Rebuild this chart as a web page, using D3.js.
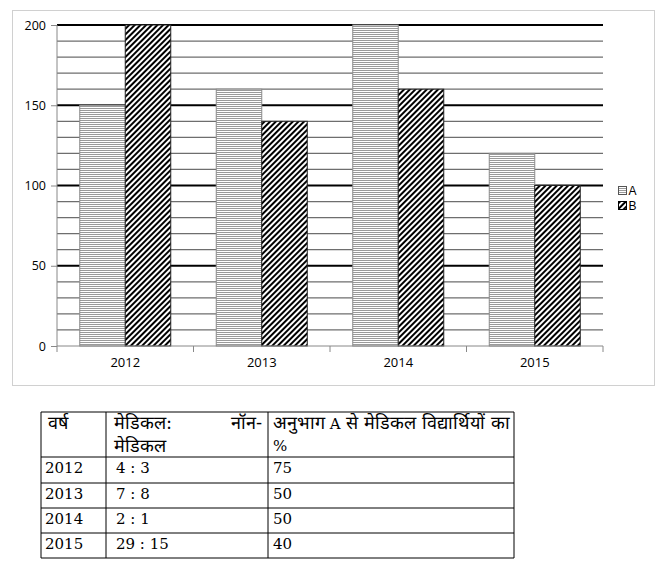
<!DOCTYPE html>
<html><head><meta charset="utf-8">
<script src="https://cdn.jsdelivr.net/npm/d3@7"></script>
<style>body{margin:0;background:#fff}svg{display:block}</style>
</head><body>
<script>
const years = ["2012","2013","2014","2015"];
const seriesA = [150,160,200,120];
const seriesB = [200,140,160,100];
const seriesNames = ["A","B"];
const yTicks = [0,50,100,150,200];
const tableHeader = ["वर्ष", "मेडिकल: नॉन-मेडिकल", "अनुभाग A से मेडिकल विद्यार्थियों का %"];
const tableRatios = ["4 : 3","7 : 8","2 : 1","29 : 15"];
const tablePercents = ["75","50","50","40"];

const W=665,H=566;
const svg=d3.select("body").append("svg").attr("width",W).attr("height",H);
const defs=svg.append("defs");
const pA=defs.append("pattern").attr("id","patA").attr("patternUnits","userSpaceOnUse").attr("width",4).attr("height",2);
pA.append("rect").attr("width",4).attr("height",2).attr("fill","#fff");
pA.append("rect").attr("width",4).attr("height",1).attr("fill","#9a9a9a");
const pB=defs.append("pattern").attr("id","patB").attr("patternUnits","userSpaceOnUse").attr("width",4).attr("height",4).attr("patternTransform","rotate(45)");
pB.append("rect").attr("width",4).attr("height",4).attr("fill","#fff");
pB.append("rect").attr("width",2).attr("height",4).attr("fill","#000");

const sansF="'Open Sans', 'Liberation Sans', sans-serif";

// frame
svg.append("rect").attr("x",12.5).attr("y",10.5).attr("width",642).attr("height",375).attr("fill","#fff").attr("stroke","#d0d0d0");

const x=d3.scaleBand().domain(years).range([57,603]).padding(0);
const bw=x.bandwidth();
const xs=d3.scaleBand().domain(seriesNames).range([bw/6,bw*5/6]).padding(0);
const y=d3.scaleLinear().domain([0,200]).range([346,25]);

// gridlines
const g=svg.append("g");
d3.range(10,201,10).forEach(v=>{
  const major=v%50===0;
  g.append("line").attr("x1",57).attr("x2",603).attr("y1",y(v)).attr("y2",y(v))
   .attr("stroke",major?"#000":"#6e6e6e").attr("stroke-width",major?2:1.2);
});

// bars
const data=years.map((yr,i)=>({yr,vals:[seriesA[i],seriesB[i]]}));
const bars=svg.append("g");
data.forEach(d=>{
  seriesNames.forEach((s,j)=>{
    bars.append("rect").attr("x",x(d.yr)+xs(s)).attr("width",xs.bandwidth())
      .attr("y",y(d.vals[j])).attr("height",y(0)-y(d.vals[j]))
      .attr("fill",j===0?"url(#patA)":"url(#patB)")
      .attr("stroke",j===0?"#8a8a8a":"#222").attr("stroke-width",1);
  });
});

// y axis
const yAxis=d3.axisLeft(y).tickValues(yTicks).tickSize(6).tickPadding(5);
const ya=svg.append("g").attr("transform","translate(57,0)").call(yAxis);
ya.select(".domain").attr("stroke","#888").attr("d","M0,25V346");
ya.selectAll(".tick line").attr("stroke","#888");
ya.selectAll("text").attr("font-family",sansF).attr("font-size",12.5).attr("fill","#000");

// x axis
const xa=svg.append("g").attr("transform","translate(0,346)");
xa.append("line").attr("x1",57).attr("x2",603).attr("stroke","#888");
years.concat(["end"]).forEach((yr,i)=>{
  const xx=57+i*bw;
  xa.append("line").attr("x1",xx).attr("x2",xx).attr("y1",0).attr("y2",6).attr("stroke","#888");
});
xa.selectAll("text.xl").data(years).enter().append("text").attr("class","xl")
  .attr("x",d=>x(d)+bw/2).attr("y",21).attr("text-anchor","middle")
  .attr("font-family",sansF).attr("font-size",13).text(d=>d);

// legend
const leg=svg.append("g");
seriesNames.forEach((s,i)=>{
  const ly=186+i*15;
  leg.append("rect").attr("x",618.5).attr("y",ly+0.5).attr("width",8).attr("height",8)
    .attr("fill",i===0?"url(#patA)":"url(#patB)").attr("stroke",i===0?"#555":"#000");
  leg.append("text").attr("x",628.5).attr("y",ly+9).attr("font-family","'Liberation Sans', sans-serif").attr("font-size",12).text(s);
});

// table
const tf="'DejaVu Serif','Liberation Serif',serif";
const colX=[41,106,268,514];
const rowY=[412,457,483,508,533,558];
const t=svg.append("g");
rowY.forEach(ry=>t.append("line").attr("x1",colX[0]).attr("x2",colX[3]).attr("y1",ry).attr("y2",ry).attr("stroke","#000"));
colX.forEach(cx=>t.append("line").attr("x1",cx).attr("x2",cx).attr("y1",rowY[0]).attr("y2",rowY[5]).attr("stroke","#000"));
const txt=(xx,yy,s,anchor,fs)=>t.append("text").attr("x",xx).attr("y",yy).attr("font-family",tf).attr("font-size",fs||15).attr("text-anchor",anchor||"start").text(s);
const DV=18;
txt(colX[0]+7,429,tableHeader[0],"start",DV);
const h2=tableHeader[1].split(" ");
txt(colX[1]+8,429,h2[0],"start",DV);
txt(colX[2]-6,429,h2[1].split("-")[0]+"-","end",DV);
txt(colX[1]+8,452,h2[1].split("-")[1],"start",DV);
// header 3: Devanagari words with Latin "A" at the body size
const h3words=tableHeader[2].split(" ");
const h3=t.append("text").attr("x",colX[2]+5).attr("y",429).attr("font-family",tf);
h3words.slice(0,h3words.length-1).forEach((w,i)=>{
  h3.append("tspan").attr("font-size",w==="A"?15:DV).text((i>0?" ":"")+w);
});
txt(colX[2]+5,451,h3words[h3words.length-1],"start",15);
years.forEach((yr,i)=>{
  const by=rowY[i+1]+16;
  txt(colX[0]+4,by,yr);
  txt(colX[1]+10,by,tableRatios[i]);
  txt(colX[2]+5,by,tablePercents[i]);
});
</script>
</body></html>
